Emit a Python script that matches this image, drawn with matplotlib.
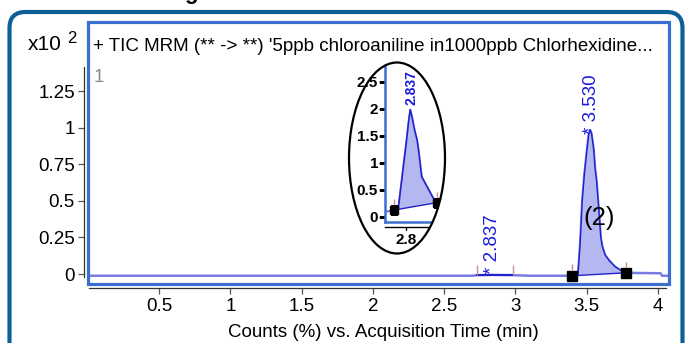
import matplotlib
matplotlib.use('Agg')
import matplotlib.pyplot as plt
import matplotlib.transforms as mtransforms
from matplotlib.patches import Ellipse, FancyBboxPatch, Rectangle
import numpy as np

# ---------------- data ----------------
tic_time = [0.01, 2.70, 2.729, 2.80, 2.84, 2.90, 2.986, 3.10, 3.40, 3.43, 3.44,
            3.455, 3.47, 3.485, 3.50, 3.515, 3.525, 3.535, 3.55, 3.56, 3.57,
            3.585, 3.60, 3.61, 3.63, 3.66, 3.70, 3.74, 3.775, 4.02, 4.03, 4.08]
tic_counts = [-0.012, -0.012, -0.008, -0.007, -0.006, -0.007, -0.008, -0.012, -0.012, -0.010, -0.006,
              0.20, 0.50, 0.68, 0.82, 0.95, 0.985, 0.96, 0.85, 0.72, 0.64,
              0.45, 0.25, 0.19, 0.13, 0.09, 0.05, 0.025, 0.008, 0.005, -0.012, -0.012]
small_int_time = [2.729, 2.986]
small_int_counts = [-0.007, -0.007]
main_int_time = [3.40, 3.775]
main_int_counts = [-0.012, 0.008]
main_peak_label = '* 3.530'
small_peak_label = '* 2.837'
x_ticks = [0.5, 1, 1.5, 2, 2.5, 3, 3.5, 4]
x_tick_labels = ['0.5', '1', '1.5', '2', '2.5', '3', '3.5', '4']
y_ticks = [0, 0.25, 0.5, 0.75, 1, 1.25]
y_tick_labels = ['0', '0.25', '0.5', '0.75', '1', '1.25']

inset_time = [2.671, 2.729, 2.754, 2.79, 2.804, 2.815, 2.826, 2.838, 2.852,
              2.867, 2.876, 2.895, 2.976, 2.986, 3.03, 3.08]
inset_counts = [0.09, 0.12, 0.16, 1.07, 1.42, 1.73, 1.98, 1.82, 1.60,
                1.42, 1.23, 0.74, 0.28, 0.26, 0.25, 0.25]
inset_int_time = [2.729, 2.986]
inset_int_counts = [0.124, 0.26]
inset_peak_label = '2.837'
inset_y_ticks = [0, 0.5, 1, 1.5, 2, 2.5]
inset_y_tick_labels = ['0', '0.5', '1', '1.5', '2', '2.5']
inset_x_ticks = [2.8]
inset_x_tick_labels = ['2.8']

title_text = "+ TIC MRM (** -> **) '5ppb chloroaniline in1000ppb Chlorhexidine..."
x_label = 'Counts (%) vs. Acquisition Time (min)'

# ---------------- styles ----------------
plt.rcParams['font.family'] = ['Liberation Sans', 'DejaVu Sans']
W, H = 686, 343
fig = plt.figure(figsize=(W / 100, H / 100), dpi=100)
fig.patch.set_facecolor('white')
px = mtransforms.Affine2D().scale(1 / W, -1 / H).translate(0, 1) + fig.transFigure

BOX_BLUE = '#3b6fcf'
LINE_LIGHT = '#7b7be6'
LINE_DARK = '#2020cc'
FILL = '#b4b8f0'
LABEL_BLUE = '#1a1ae0'
INT_TICK = '#c89090'
FS = 13.5

# outer dark frame
frame = FancyBboxPatch((9.5, 12), 673, 400, boxstyle='round,pad=0,rounding_size=16',
                       transform=px, fill=False, ec='#0d5f97', lw=3.0, zorder=0)
fig.add_artist(frame)
fig.text(191, -1.5, 'g', transform=px, ha='center', va='baseline', fontsize=16,
         fontweight='bold', color='black')

# ---------------- main axes ----------------
ax = fig.add_axes([88 / W, 1 - 284 / H, (669 - 88) / W, (284 - 22) / H])
ax.set_xlim(0, 4.079)
ax.set_ylim(-0.0684, 1.7237)
ax.set_facecolor('white')

t = np.array(tic_time)
c = np.array(tic_counts)
ax.plot(t, c, color=LINE_LIGHT, lw=1.8, zorder=2, solid_joinstyle='round')

m = (t >= main_int_time[0]) & (t <= main_int_time[1])
px_t = np.concatenate([t[m], main_int_time[::-1]])
px_c = np.concatenate([c[m], main_int_counts[::-1]])
ax.fill(px_t, px_c, color=FILL, zorder=3, lw=0)
ax.plot(t[m][2:], c[m][2:], color=LINE_DARK, lw=1.0, zorder=4)
ax.plot(main_int_time, main_int_counts, color=LINE_DARK, lw=1.0, zorder=4)
ax.plot(small_int_time, small_int_counts, color=LINE_DARK, lw=1.4, zorder=4)

ax.vlines(small_int_time, -0.007, 0.062, color=INT_TICK, lw=1.0, zorder=4)
ax.vlines(main_int_time, [0.027, 0.045], [0.068, 0.085], color=INT_TICK, lw=1.0, zorder=4)
ax.plot(main_int_time, main_int_counts, ls='none', marker='s', ms=7.5, color='black', zorder=6)

ax.text(3.536, 0.955, main_peak_label, rotation=90, ha='center', va='bottom',
        color=LABEL_BLUE, fontsize=FS, zorder=6)
ax.text(2.842, 0.0, small_peak_label, rotation=90, ha='center', va='bottom',
        color=LABEL_BLUE, fontsize=FS, zorder=6)
ax.text(3.585, 0.383, '(2)', ha='center', va='center', fontsize=18.5, color='black', zorder=6)

ax.text(0.0086, 0.9046, title_text, transform=ax.transAxes, ha='left', va='center',
        fontsize=FS, color='black')
ax.text(0.0095, 0.79, '1', transform=ax.transAxes, ha='left', va='center',
        fontsize=FS, color='#8a8a8a')

ax.add_patch(Rectangle((0, 0), 1, 1, transform=ax.transAxes, fill=False,
                       ec=BOX_BLUE, lw=2.3, clip_on=False, zorder=7))

for s in ['top', 'right']:
    ax.spines[s].set_visible(False)
for s in ['left', 'bottom']:
    ax.spines[s].set_position(('outward', 3.2))
    ax.spines[s].set_color('#333333')
    ax.spines[s].set_linewidth(0.9)
ax.spines['left'].set_bounds(-0.018, 1.418)
ax.spines['bottom'].set_bounds(0.01, 4.057)

ax.set_xticks(x_ticks)
ax.set_xticklabels(x_tick_labels)
ax.set_yticks(y_ticks)
ax.set_yticklabels(y_tick_labels)
ax.tick_params(axis='x', direction='out', length=4, width=0.9, color='#555555',
               pad=3.0, labelsize=FS)
ax.tick_params(axis='y', direction='out', length=4.3, width=0.9, color='#555555',
               pad=2, labelsize=FS)

ax.set_xlabel(x_label, fontsize=FS)
ax.xaxis.set_label_coords(0.508, -0.187)
ax.xaxis.label.set_va('center')

fig.text(28, 50, 'x10', transform=px, ha='left', va='baseline', fontsize=15)
fig.text(67, 43, '2', transform=px, ha='left', va='baseline', fontsize=12)

# ---------------- inset ----------------
ell_xy, ell_w, ell_h = (397, 158), 96, 191
clip = Ellipse(ell_xy, ell_w, ell_h, transform=px)
ax2 = fig.add_axes([384.7 / W, 1 - 222 / H, (452 - 384.7) / W, (222 - 55) / H])
ax2.set_facecolor('none')
ax2.set_xlim(2.671, 3.0788)
ax2.set_ylim(-0.098, 2.994)

it = np.array(inset_time)
ic = np.array(inset_counts)
arts = []
arts += ax2.plot(it, ic, color=LINE_LIGHT, lw=1.6, zorder=2)
mi = (it >= inset_int_time[0]) & (it <= inset_int_time[1])
arts += ax2.fill(np.concatenate([it[mi], inset_int_time[::-1]]),
                 np.concatenate([ic[mi], inset_int_counts[::-1]]), color=FILL, lw=0, zorder=3)
arts += ax2.plot(it[mi], ic[mi], color=LINE_DARK, lw=1.1, zorder=4)
arts += ax2.plot(inset_int_time, inset_int_counts, color=LINE_DARK, lw=1.0, zorder=4)
arts += ax2.plot(inset_int_time, inset_int_counts, ls='none', marker='s', ms=5.2,
                 color='black', zorder=6)
arts.append(ax2.vlines(inset_int_time, [0.2, 0.33], [0.33, 0.46], color=INT_TICK, lw=1.0, zorder=5))
arts.append(ax2.text(2.836, 2.07, inset_peak_label, rotation=90, ha='center', va='bottom',
                     color=LABEL_BLUE, fontsize=10, fontweight='bold', zorder=6))
bl = ax2.plot([0, 1], [0, 0], transform=ax2.transAxes, color=BOX_BLUE, lw=1.8, zorder=7)[0]
bl.set_clip_box(None)
arts.append(bl)

for s in ['top', 'right']:
    ax2.spines[s].set_visible(False)
ax2.spines['left'].set_color(BOX_BLUE)
ax2.spines['left'].set_linewidth(1.8)
ax2.spines['bottom'].set_position(('outward', 3.3))
ax2.spines['bottom'].set_color('black')
ax2.spines['bottom'].set_linewidth(1.0)
ax2.set_xticks(inset_x_ticks)
ax2.set_xticklabels(inset_x_tick_labels)
ax2.set_yticks(inset_y_ticks)
ax2.set_yticklabels(inset_y_tick_labels)
ax2.tick_params(axis='x', direction='out', length=2.5, width=1.0, color='black',
                pad=2.0, labelsize=11)
ax2.tick_params(axis='y', direction='out', length=4.3, width=1.0, color='black',
                pad=0.5, labelsize=11)
for lab in ax2.get_xticklabels() + ax2.get_yticklabels():
    lab.set_fontweight('bold')

for a in arts:
    a.set_clip_path(clip)
for s in ax2.spines.values():
    s.set_clip_path(clip)
for tk in ax2.xaxis.get_major_ticks() + ax2.yaxis.get_major_ticks():
    tk.tick1line.set_clip_path(clip)
    tk.label1.set_clip_path(clip)

ell = Ellipse(ell_xy, ell_w, ell_h, transform=px, fill=False, ec='black', lw=1.6, zorder=10)
fig.add_artist(ell)

fig.savefig('out.png', dpi=100, facecolor='white')
